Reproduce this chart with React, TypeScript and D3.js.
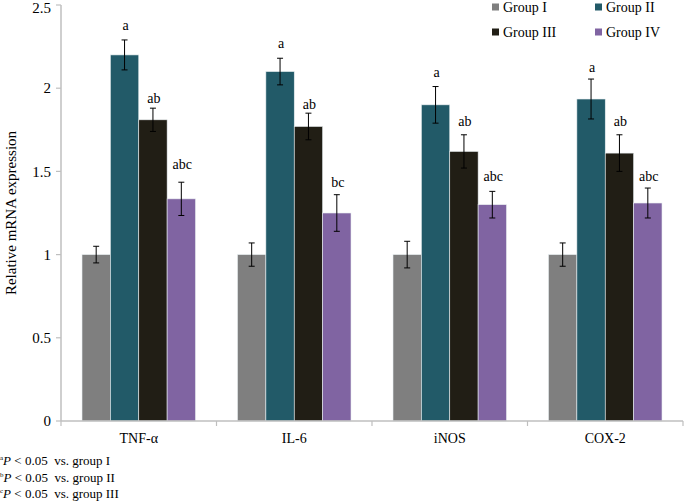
import React from "react";
import * as d3 from "d3";

const categories = ["TNF-α", "IL-6", "iNOS", "COX-2"];
const groups = ["Group I", "Group II", "Group III", "Group IV"];
const colors = ["#7f7f7f", "#225a68", "#211e15", "#8064a2"];
const yTicks = [0, 0.5, 1, 1.5, 2, 2.5];

// values[group][category]
const groupI = [1.0, 1.0, 1.0, 1.0];
const groupII = [2.2, 2.1, 1.9, 1.935];
const groupIII = [1.81, 1.77, 1.62, 1.61];
const groupIV = [1.335, 1.25, 1.3, 1.31];
const errI = [0.05, 0.07, 0.08, 0.07];
const errII = [0.09, 0.08, 0.11, 0.12];
const errIII = [0.07, 0.08, 0.1, 0.11];
const errIV = [0.1, 0.11, 0.08, 0.09];

// significance letters (group II, III, IV) and their baseline heights (data units)
const lettersII = ["a", "a", "a", "a"];
const lettersIII = ["ab", "ab", "ab", "ab"];
const lettersIV = ["abc", "bc", "abc", "abc"];
const letterYII = [2.35, 2.24, 2.067, 2.1];
const letterYIII = [1.91, 1.878, 1.773, 1.773];
const letterYIV = [1.517, 1.406, 1.442, 1.442];

const footnotes = [
  { sup: "a", rest: "< 0.05\u00a0\u00a0vs. group I" },
  { sup: "b", rest: "< 0.05\u00a0\u00a0vs. group II" },
  { sup: "c", rest: "< 0.05\u00a0\u00a0vs. group III" },
];

const W = 685;
const H = 503;
const left = 61;
const right = 683;
const top = 5;
const bottom = 421;
const font = "'Liberation Serif', 'Times New Roman', serif";
const axisColor = "#bfbfbf";

export default function App() {
  const values = [groupI, groupII, groupIII, groupIV];
  const errs = [errI, errII, errIII, errIV];
  const letters = [null, lettersII, lettersIII, lettersIV];
  const letterY = [null, letterYII, letterYIII, letterYIV];

  const y = d3.scaleLinear().domain([0, 2.5]).range([bottom, top]);
  const x0 = d3.scaleBand().domain(categories).range([left, right]).padding(0);
  const x1 = d3
    .scaleBand()
    .domain(groups)
    .range([0, x0.bandwidth()])
    .paddingInner(0)
    .paddingOuter(0.74);
  const bw = x1.bandwidth();

  const catEdges = categories.map((c) => (x0(c) as number) + x0.bandwidth());

  return (
    <svg width={W} height={H} style={{ position: "absolute", left: 0, top: 0, background: "#fff" }} fontFamily={font}>
      <rect x={0} y={0} width={W} height={H} fill="#fff" />
      {/* y axis */}
      <line x1={left} x2={left} y1={top} y2={bottom} stroke={axisColor} strokeWidth={1.5} />
      {yTicks.map((t) => (
        <g key={t}>
          <line x1={left - 5} x2={left} y1={y(t)} y2={y(t)} stroke={axisColor} strokeWidth={1.2} />
          <text x={left - 10} y={Math.max(y(t), 8)} dy="0.35em" textAnchor="end" fontSize={15} fill="#000">
            {t}
          </text>
        </g>
      ))}
      <text
        transform={`translate(11,${(top + bottom) / 2}) rotate(-90)`}
        textAnchor="middle"
        fontSize={15}
        fill="#000"
        dy="0.35em"
      >
        Relative mRNA expression
      </text>

      {/* bars */}
      {groups.map((g, gi) =>
        categories.map((c, ci) => {
          const bx = (x0(c) as number) + (x1(g) as number);
          const v = values[gi][ci];
          return (
            <rect
              key={g + c}
              x={bx}
              y={y(v)}
              width={bw}
              height={y(0) - y(v)}
              fill={colors[gi]}
              stroke="#e8eef0"
              strokeWidth={0.6}
            />
          );
        })
      )}

      {/* x axis */}
      <line x1={left} x2={right} y1={bottom} y2={bottom} stroke={axisColor} strokeWidth={1.5} />
      {[left, ...catEdges].map((e, i) => (
        <line key={i} x1={e} x2={e} y1={bottom} y2={bottom + 5} stroke={axisColor} strokeWidth={1.2} />
      ))}
      {categories.map((c) => (
        <text
          key={c}
          x={(x0(c) as number) + x0.bandwidth() / 2}
          y={443}
          textAnchor="middle"
          fontSize={14}
          fill="#000"
        >
          {c}
        </text>
      ))}

      {/* error bars */}
      {groups.map((g, gi) =>
        categories.map((c, ci) => {
          const cx = (x0(c) as number) + (x1(g) as number) + bw / 2;
          const v = values[gi][ci];
          const e = errs[gi][ci];
          const y1 = y(v + e);
          const y2 = y(v - e);
          return (
            <g key={"e" + g + c} stroke="#000" strokeWidth={1}>
              <line x1={cx} x2={cx} y1={y1} y2={y2} />
              <line x1={cx - 3} x2={cx + 3} y1={y1} y2={y1} />
              <line x1={cx - 3} x2={cx + 3} y1={y2} y2={y2} />
            </g>
          );
        })
      )}

      {/* significance letters */}
      {groups.map((g, gi) =>
        letters[gi]
          ? categories.map((c, ci) => (
              <text
                key={"l" + g + c}
                x={(x0(c) as number) + (x1(g) as number) + bw / 2 + 1}
                y={y((letterY[gi] as number[])[ci])}
                textAnchor="middle"
                fontSize={14}
                fill="#000"
              >
                {(letters[gi] as string[])[ci]}
              </text>
            ))
          : null
      )}

      {/* legend */}
      {groups.map((g, gi) => {
        const col = gi % 2;
        const row = Math.floor(gi / 2);
        const lx = 492 + col * 103;
        const ly = 7 + row * 25;
        return (
          <g key={"lg" + g}>
            <rect x={lx} y={ly - 3.5} width={7} height={7} fill={colors[gi]} />
            <text x={lx + 11} y={ly} dy="0.35em" fontSize={14} fill="#000">
              {g}
            </text>
          </g>
        );
      })}

      {/* footnotes */}
      {footnotes.map((f, i) => (
        <text key={"f" + i} x={0} y={465 + i * 16.5} fontSize={13} fill="#000">
          <tspan fontSize={7} dy={-5}>
            {f.sup}
          </tspan>
          <tspan fontStyle="italic" dy={5}>
            P
          </tspan>
          <tspan>{" " + f.rest}</tspan>
        </text>
      ))}
    </svg>
  );
}
